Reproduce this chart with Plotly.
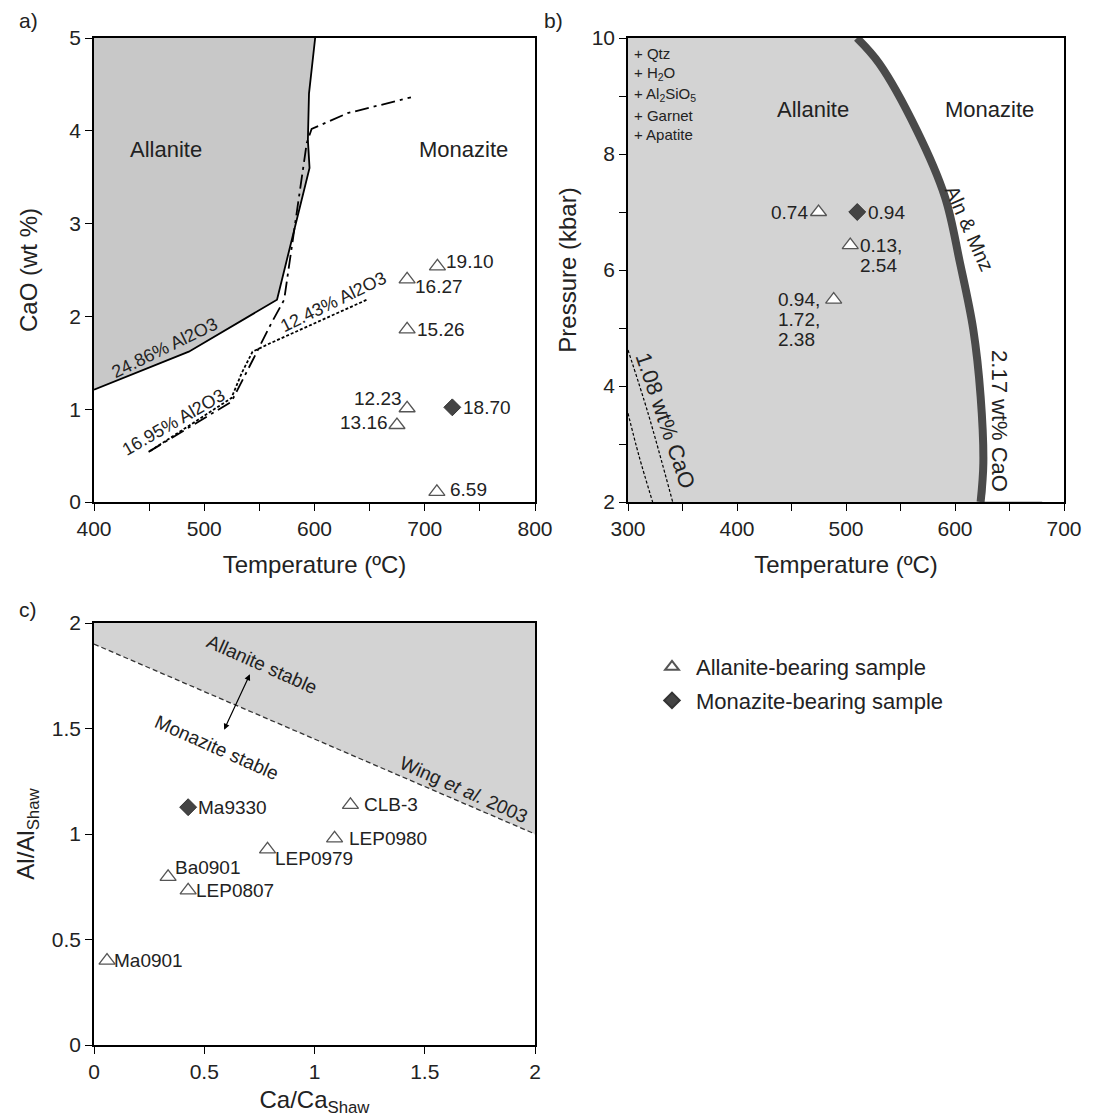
import plotly.graph_objects as go

FONT = "Liberation Sans, Arial, sans-serif"
TXT = "#222222"

# ---------------- Panel a data ----------------
a_bound_T = [400, 486, 566, 595.5, 594, 595, 600.6]
a_bound_CaO = [1.21, 1.62, 2.18, 3.6, 3.9, 4.4, 5.0]
a_dashdot_T = [449.5, 524.6, 544, 561, 572.5, 585, 593, 597.4, 630, 687.5]
a_dashdot_CaO = [0.54, 1.08, 1.53, 1.93, 2.18, 3.19, 3.87, 4.02, 4.19, 4.36]
a_dash_T = [451, 524.6, 534, 543.8, 559.7, 647.6]
a_dash_CaO = [0.55, 1.12, 1.39, 1.62, 1.71, 2.18]
a_aln_T = [711.5, 684, 684, 684, 674.8, 711]
a_aln_CaO = [2.54, 2.40, 1.86, 1.01, 0.83, 0.11]
a_aln_lab = ["19.10", "16.27", "15.26", "12.23", "13.16", "6.59"]
a_mnz_T = [725]
a_mnz_CaO = [1.02]
a_mnz_lab = ["18.70"]

# ---------------- Panel b data ----------------
b_curve_T = [510, 530.5, 564.9, 590.8, 604.6, 616.8, 623.5, 626, 623.5]
b_curve_P = [10.0, 9.56, 8.41, 7.26, 6.12, 4.97, 3.82, 2.67, 2.0]
b_iso1_T = [300, 318.4, 341]
b_iso1_P = [4.62, 3.53, 2.0]
b_iso2_T = [300, 310, 322.6]
b_iso2_P = [3.53, 2.8, 2.0]
b_aln_T = [474.8, 503.9, 488.7]
b_aln_P = [7.0, 6.43, 5.49]
b_aln_lab = [["0.74"], ["0.13,", "2.54"], ["0.94,", "1.72,", "2.38"]]
b_mnz_T = [510.3]
b_mnz_P = [7.0]
b_mnz_lab = [["0.94"]]
b_assemblage = ["+ Qtz", "+ H<sub>2</sub>O", "+ Al<sub>2</sub>SiO<sub>5</sub>", "+ Garnet", "+ Apatite"]
b_assemblage_P = [9.74, 9.39, 9.02, 8.67, 8.33]

# ---------------- Panel c data ----------------
c_line_x = [0, 2]
c_line_y = [1.9, 1.0]
c_aln_x = [1.163, 1.091, 0.787, 0.336, 0.427, 0.059]
c_aln_y = [1.138, 0.979, 0.927, 0.797, 0.733, 0.40]
c_aln_lab = ["CLB-3", "LEP0980", "LEP0979", "Ba0901", "LEP0807", "Ma0901"]
c_mnz_x = [0.427]
c_mnz_y = [1.127]
c_mnz_lab = ["Ma9330"]

# label placement styles: (xanchor, x pixel offset, y pixel offset)
a_aln_style = [("left", 7, 5), ("left", 6, -7), ("left", 8, 0),
               ("right", -3, 10), ("right", -7, 2), ("left", 11, 2)]
a_mnz_style = [("left", 9, 0)]
b_aln_style = [("right", -9, 0), ("left", 8, 0), ("left", -58, 0)]
b_mnz_style = [("left", 9, 0)]
c_aln_style = [("left", 12, 0), ("left", 12, 0), ("left", 5, -9),
               ("left", 5, 9), ("left", 6, 0), ("left", 5, 0)]
c_mnz_style = [("left", 8, 0)]
LINE_STEP = 20

W, H = 1095, 1120
OFF = 8  # page body margin
def px(x0, x1):
    return [(x0 - OFF) / W, (x1 - OFF) / W]
def py(top, bottom):
    return [1 - (bottom - OFF) / H, 1 - (top - OFF) / H]

TRI_F = dict(symbol="triangle-up", size=14, color="white", line=dict(width=1.3, color="#555555"))
DIA = dict(symbol="diamond", size=13, color="#444444", line=dict(width=1, color="#333333"))

fig = go.Figure()

# ---- Panel a ----
fig.add_trace(go.Scatter(x=[400] + a_bound_T + [400], y=[5] + a_bound_CaO + [5],
                         fill="toself", fillcolor="#c8c8c8", mode="lines",
                         line=dict(width=0), xaxis="x", yaxis="y", showlegend=False, hoverinfo="skip"))
fig.add_trace(go.Scatter(x=a_bound_T, y=a_bound_CaO, mode="lines", line=dict(color="black", width=1.8),
                         xaxis="x", yaxis="y", showlegend=False))
fig.add_trace(go.Scatter(x=a_dash_T, y=a_dash_CaO, mode="lines", line=dict(color="black", width=1.8, dash="3px,2px"),
                         xaxis="x", yaxis="y", showlegend=False))
fig.add_trace(go.Scatter(x=a_dashdot_T, y=a_dashdot_CaO, mode="lines",
                         line=dict(color="black", width=1.8, dash="14px,5px,3px,5px"),
                         xaxis="x", yaxis="y", showlegend=False))
fig.add_trace(go.Scatter(x=a_aln_T, y=a_aln_CaO, mode="markers", marker=TRI_F,
                         xaxis="x", yaxis="y", showlegend=False))
fig.add_trace(go.Scatter(x=a_mnz_T, y=a_mnz_CaO, mode="markers", marker=DIA,
                         xaxis="x", yaxis="y", showlegend=False))

# ---- Panel b ----
fig.add_trace(go.Scatter(x=[300, 300] + b_curve_T[::-1], y=[10, 2] + b_curve_P[::-1],
                         fill="toself", fillcolor="#d3d3d3", mode="lines", line=dict(width=0, shape="spline"),
                         xaxis="x2", yaxis="y2", showlegend=False, hoverinfo="skip"))
fig.add_trace(go.Scatter(x=[b_curve_T[-1], 680], y=[2, 2], mode="lines", line=dict(color="#cccccc", width=2),
                         xaxis="x2", yaxis="y2", showlegend=False))
fig.add_trace(go.Scatter(x=b_curve_T, y=b_curve_P, mode="lines", line=dict(color="#4a4a4a", width=8, shape="spline"),
                         xaxis="x2", yaxis="y2", showlegend=False))
fig.add_trace(go.Scatter(x=b_iso1_T, y=b_iso1_P, mode="lines", line=dict(color="black", width=1.2, dash="3px,2px", shape="spline"),
                         xaxis="x2", yaxis="y2", showlegend=False))
fig.add_trace(go.Scatter(x=b_iso2_T, y=b_iso2_P, mode="lines", line=dict(color="black", width=1.2, dash="3px,2px", shape="spline"),
                         xaxis="x2", yaxis="y2", showlegend=False))
fig.add_trace(go.Scatter(x=b_aln_T, y=b_aln_P, mode="markers", marker=TRI_F,
                         xaxis="x2", yaxis="y2", showlegend=False))
fig.add_trace(go.Scatter(x=b_mnz_T, y=b_mnz_P, mode="markers", marker=DIA,
                         xaxis="x2", yaxis="y2", showlegend=False))

# ---- Panel c ----
fig.add_trace(go.Scatter(x=[0, 0, 2, 2], y=[c_line_y[0], 2, 2, c_line_y[1]],
                         fill="toself", fillcolor="#d3d3d3", mode="lines", line=dict(width=0),
                         xaxis="x3", yaxis="y3", showlegend=False, hoverinfo="skip"))
fig.add_trace(go.Scatter(x=c_line_x, y=c_line_y, mode="lines", line=dict(color="#333333", width=1.3, dash="5px,3px"),
                         xaxis="x3", yaxis="y3", showlegend=False))
fig.add_trace(go.Scatter(x=c_aln_x, y=c_aln_y, mode="markers", marker=TRI_F, legendgroup="aln",
                         name="Allanite-bearing sample", xaxis="x3", yaxis="y3", showlegend=True))
fig.add_trace(go.Scatter(x=c_mnz_x, y=c_mnz_y, mode="markers", marker=DIA, legendgroup="mnz",
                         name="Monazite-bearing sample", xaxis="x3", yaxis="y3", showlegend=True))

axis_common = dict(showgrid=False, zeroline=False, showline=True, linecolor="black", linewidth=1.5,
                   mirror=True, ticks="outside", ticklen=7, tickcolor="black", tickwidth=1,
                   tickfont=dict(size=21, color=TXT, family=FONT), automargin=False,
                   title_font=dict(size=24, color=TXT, family=FONT))
minor_x = dict(dtick=50, ticks="outside", ticklen=7, tickcolor="black")

fig.update_layout(
    width=W, height=H, margin=dict(l=0, r=0, t=0, b=0),
    paper_bgcolor="white", plot_bgcolor="white",
    font=dict(family=FONT, color=TXT),
    xaxis=dict(axis_common, domain=px(94, 535), range=[400, 800], tickvals=[400, 500, 600, 700, 800],
               minor=minor_x, title=dict(text="Temperature (ºC)", standoff=17), anchor="y"),
    yaxis=dict(axis_common, domain=py(38, 502), range=[0, 5], tickvals=[0, 1, 2, 3, 4, 5],
               title=dict(text="CaO (wt %)", standoff=25), anchor="x"),
    xaxis2=dict(axis_common, domain=px(628, 1064), range=[300, 700], tickvals=[300, 400, 500, 600, 700],
                minor=minor_x, title=dict(text="Temperature (ºC)", standoff=17), anchor="y2"),
    yaxis2=dict(axis_common, domain=py(38, 502), range=[2, 10], tickvals=[2, 4, 6, 8, 10],
                minor=dict(dtick=1, ticks="outside", ticklen=7, tickcolor="black"),
                title=dict(text="Pressure (kbar)", standoff=8), anchor="x2"),
    xaxis3=dict(axis_common, domain=px(94, 535), range=[0, 2], tickvals=[0, 0.5, 1, 1.5, 2],
                ticktext=["0", "0.5", "1", "1.5", "2"],
                title=dict(text="Ca/Ca<sub>Shaw</sub>", standoff=9), anchor="y3"),
    yaxis3=dict(axis_common, domain=py(623, 1045), range=[0, 2], tickvals=[0, 0.5, 1, 1.5, 2],
                ticktext=["0", "0.5", "1", "1.5", "2"],
                title=dict(text="Al/Al<sub>Shaw</sub>", standoff=10), anchor="x3"),
    legend=dict(x=(648 - OFF) / W, y=1 - (646 - OFF) / H, xanchor="left", yanchor="top",
                font=dict(size=22, color=TXT, family=FONT), bgcolor="rgba(0,0,0,0)",
                itemsizing="constant", itemwidth=38, tracegroupgap=2),
)

ann = []
def A(text, x, y, xr, yr, size=20, angle=0, **kw):
    d = dict(text=text, x=x, y=y, xref=xr, yref=yr, showarrow=False, textangle=angle,
             font=dict(size=size, color=TXT, family=FONT))
    d.update(kw)
    ann.append(d)

def labels(xs, ys, texts, styles, xr, yr, size=19):
    for x, y, t, (xa, dx, dy) in zip(xs, ys, texts, styles):
        lines = t if isinstance(t, list) else [t]
        for i, ln in enumerate(lines):
            A(ln, x, y, xr, yr, size=size, xanchor=xa, yanchor="middle", xshift=dx,
              yshift=dy - i * LINE_STEP)

# panel labels
for lab, X, Y in [("a)", 28, 21), ("b)", 553, 21), ("c)", 28, 609)]:
    A(lab, (X - OFF) / W, 1 - (Y - OFF) / H, "paper", "paper", size=21, xanchor="center", yanchor="middle")

# panel a
A("Allanite", 465.5, 3.80, "x", "y", size=22)
A("Monazite", 735, 3.80, "x", "y", size=22)
A("24.86% Al2O3", 463.9, 1.66, "x", "y", size=18, angle=-26)
A("16.95% Al2O3", 472.5, 0.86, "x", "y", size=18, angle=-30)
A("12.43% Al2O3", 617, 2.15, "x", "y", size=18, angle=-26)
labels(a_aln_T, a_aln_CaO, a_aln_lab, a_aln_style, "x", "y")
labels(a_mnz_T, a_mnz_CaO, a_mnz_lab, a_mnz_style, "x", "y")

# panel b
A("Allanite", 470, 8.76, "x2", "y2", size=22)
A("Monazite", 632, 8.76, "x2", "y2", size=22)
for t, p in zip(b_assemblage, b_assemblage_P):
    A(t, 303.4, p, "x2", "y2", size=15, xanchor="left")
A("Aln &amp; Mnz", 613, 6.72, "x2", "y2", size=20, angle=66)
A("2.17 wt% CaO", 641, 3.40, "x2", "y2", size=22, angle=90)
A("1.08 wt% CaO", 334.5, 3.41, "x2", "y2", size=22, angle=71)
labels(b_aln_T, b_aln_P, b_aln_lab, b_aln_style, "x2", "y2")
labels(b_mnz_T, b_mnz_P, b_mnz_lab, b_mnz_style, "x2", "y2")

# panel c
A("Allanite stable", 0.763, 1.805, "x3", "y3", size=19, angle=24)
A("Monazite stable", 0.555, 1.408, "x3", "y3", size=19, angle=24)
A("Wing <i>et al.</i> 2003", 1.675, 1.21, "x3", "y3", size=19, angle=24)
labels(c_aln_x, c_aln_y, c_aln_lab, c_aln_style, "x3", "y3")
labels(c_mnz_x, c_mnz_y, c_mnz_lab, c_mnz_style, "x3", "y3")
ann.append(dict(x=0.707, y=1.757, ax=0.587, ay=1.487, xref="x3", yref="y3", axref="x3", ayref="y3",
                showarrow=True, arrowhead=2, arrowside="end+start", arrowsize=1, arrowwidth=1.2,
                arrowcolor="black", text=""))

fig.update_layout(annotations=ann)
fig.write_html("out.html")
